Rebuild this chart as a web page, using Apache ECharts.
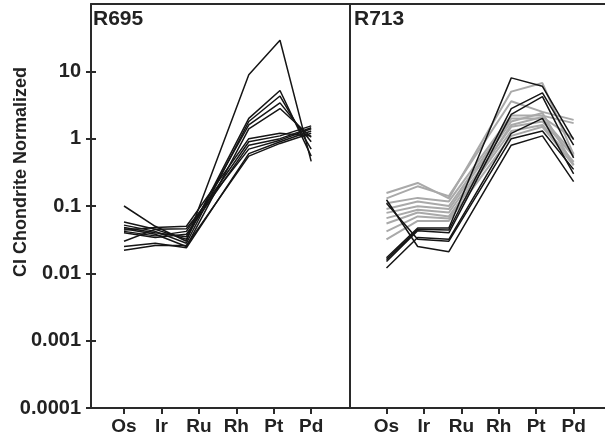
<!DOCTYPE html>
<html>
<head>
<meta charset="utf-8">
<script src="https://cdn.jsdelivr.net/npm/echarts@6/dist/echarts.min.js"></script>
<style>
html,body{margin:0;padding:0;background:#fff;}
#chart{width:605px;height:440px;}
</style>
</head>
<body>
<div id="chart"></div>
<script>
// ---- data ----
var elements = ['Os', 'Ir', 'Ru', 'Rh', 'Pt', 'Pd'];
// x slot of each element in the plotted profiles (the original plot leaves a gap between Ru and Rh)
var elementSlot = [0, 1, 2, 4, 5, 6];
// slots where the element names are printed under the axis
var labelSlot = [0, 1.2, 2.4, 3.6, 4.8, 6.0];
var yTickValues = [0.0001, 0.001, 0.01, 0.1, 1, 10];
var yTickLabels = ['0.0001', '0.001', '0.01', '0.1', '1', '10'];
var panelTitles = ['R695', 'R713'];
var yAxisTitle = 'CI Chondrite Normalized';

// R695 profiles (Os, Ir, Ru, Rh, Pt, Pd)
var r695 = [
  [0.100, 0.050, 0.030, 8.9, 29, 0.46],
  [0.058, 0.045, 0.032, 2.0, 5.2, 0.55],
  [0.052, 0.042, 0.028, 1.8, 4.3, 0.70],
  [0.048, 0.040, 0.035, 1.6, 3.4, 0.90],
  [0.046, 0.038, 0.025, 1.4, 2.8, 1.05],
  [0.044, 0.048, 0.050, 1.0, 1.2, 1.10],
  [0.042, 0.036, 0.042, 0.9, 1.1, 1.55],
  [0.040, 0.034, 0.038, 0.8, 1.0, 1.45],
  [0.030, 0.045, 0.046, 0.7, 0.95, 1.40],
  [0.025, 0.028, 0.024, 0.6, 0.9, 1.30],
  [0.022, 0.026, 0.026, 0.55, 0.85, 1.20]
];
// R713 profiles, black group
var r713Black = [
  [0.124, 0.025, 0.021, 0.80, 1.10, 0.23],
  [0.110, 0.032, 0.030, 1.00, 1.30, 0.35],
  [0.017, 0.047, 0.047, 8.0, 6.0, 0.97],
  [0.016, 0.045, 0.044, 2.8, 4.8, 0.80],
  [0.015, 0.043, 0.040, 2.3, 4.2, 0.52],
  [0.012, 0.034, 0.032, 1.2, 2.0, 0.30]
];
// R713 profiles, grey group
var r713Gray = [
  [0.156, 0.220, 0.130, 5.0, 6.7, 0.58],
  [0.130, 0.196, 0.140, 3.6, 2.5, 1.90],
  [0.110, 0.132, 0.117, 2.2, 2.2, 1.70],
  [0.090, 0.117, 0.100, 2.0, 2.0, 0.60],
  [0.079, 0.099, 0.090, 1.8, 2.4, 0.41],
  [0.066, 0.088, 0.080, 1.5, 1.8, 0.55],
  [0.055, 0.080, 0.070, 1.3, 1.6, 0.45],
  [0.042, 0.070, 0.065, 1.6, 2.1, 1.00],
  [0.032, 0.060, 0.060, 1.1, 1.5, 0.40]
];

// ---- chart ----
var FONT = '"Liberation Sans", Arial, sans-serif';
var AX = '#2a2a2a';
var chart = echarts.init(document.getElementById('chart'), null, {renderer: 'canvas'});

function toPoints(vals) {
  return vals.map(function (v, i) { return [elementSlot[i], v]; });
}
function yLabel(v) {
  for (var i = 0; i < yTickValues.length; i++) {
    if (Math.abs(Math.log10(v) - Math.log10(yTickValues[i])) < 1e-6) return yTickLabels[i];
  }
  return '';
}
function xLabel(v) {
  for (var i = 0; i < labelSlot.length; i++) {
    if (Math.abs(v - labelSlot[i]) < 1e-6) return elements[i];
  }
  return '';
}

function bottomX(gridIndex, min, max) {
  return {
    type: 'value', gridIndex: gridIndex, position: 'bottom', min: min, max: max,
    splitLine: {show: false},
    axisLine: {show: true, onZero: false, lineStyle: {color: AX, width: 2}},
    axisTick: {show: true, length: 6, customValues: labelSlot, lineStyle: {color: AX, width: 2}},
    axisLabel: {show: true, customValues: labelSlot, formatter: xLabel, margin: 9,
      fontFamily: FONT, fontWeight: 'bold', fontSize: 19, color: '#222'}
  };
}
function topX(gridIndex, min, max) {
  return {
    type: 'value', gridIndex: gridIndex, position: 'top', min: min, max: max,
    splitLine: {show: false},
    axisLine: {show: true, onZero: false, lineStyle: {color: AX, width: 2}},
    axisTick: {show: false}, axisLabel: {show: false}
  };
}

var series = [];
r695.forEach(function (vals) {
  series.push({type: 'line', xAxisIndex: 0, yAxisIndex: 0, data: toPoints(vals),
    showSymbol: false, silent: true, lineStyle: {color: '#151515', width: 1.5}});
});
r713Gray.forEach(function (vals) {
  series.push({type: 'line', xAxisIndex: 2, yAxisIndex: 2, data: toPoints(vals),
    showSymbol: false, silent: true, lineStyle: {color: '#a9a9a9', width: 2}});
});
r713Black.forEach(function (vals) {
  series.push({type: 'line', xAxisIndex: 2, yAxisIndex: 2, data: toPoints(vals),
    showSymbol: false, silent: true, lineStyle: {color: '#151515', width: 1.5}});
});

var option = {
  backgroundColor: '#fff',
  animation: false,
  grid: [
    {left: 91, top: 4, width: 259, height: 404},
    {left: 350, top: 4, width: 256, height: 404}
  ],
  xAxis: [
    bottomX(0, -1.058, 7.244),
    topX(0, -1.058, 7.244),
    bottomX(1, -1.17, 7.006),
    topX(1, -1.17, 7.006)
  ],
  yAxis: [
    {type: 'log', logBase: 10, gridIndex: 0, min: 0.0001, max: 100, position: 'left',
      splitLine: {show: false},
      axisLine: {show: true, onZero: false, lineStyle: {color: AX, width: 2}},
      axisTick: {show: true, length: 5, customValues: yTickValues, lineStyle: {color: AX, width: 2}},
      axisLabel: {show: true, customValues: yTickValues, formatter: yLabel, margin: 10,
        fontFamily: FONT, fontWeight: 'bold', fontSize: 20, color: '#222'}},
    {type: 'log', logBase: 10, gridIndex: 0, min: 0.0001, max: 100, position: 'left',
      splitLine: {show: false},
      axisLine: {show: false, onZero: false},
      axisTick: {show: true, inside: true, length: 5, customValues: yTickValues, lineStyle: {color: AX, width: 2}},
      axisLabel: {show: false}},
    {type: 'log', logBase: 10, gridIndex: 1, min: 0.0001, max: 100, position: 'left',
      splitLine: {show: false},
      axisLine: {show: true, onZero: false, lineStyle: {color: AX, width: 2}},
      axisTick: {show: false}, axisLabel: {show: false}}
  ],
  graphic: [
    {type: 'text', x: 21, y: 172, rotation: Math.PI / 2,
      style: {text: yAxisTitle, fontFamily: FONT, fontWeight: 'bold', fontSize: 18, fill: '#222',
        textAlign: 'center', textVerticalAlign: 'middle'}},
    {type: 'text', x: 93, y: 9,
      style: {text: panelTitles[0], fontFamily: FONT, fontWeight: 'bold', fontSize: 21, fill: '#222',
        textAlign: 'left', textVerticalAlign: 'top'}},
    {type: 'text', x: 354, y: 9,
      style: {text: panelTitles[1], fontFamily: FONT, fontWeight: 'bold', fontSize: 21, fill: '#222',
        textAlign: 'left', textVerticalAlign: 'top'}}
  ],
  series: series
};
chart.setOption(option);
</script>
</body>
</html>
